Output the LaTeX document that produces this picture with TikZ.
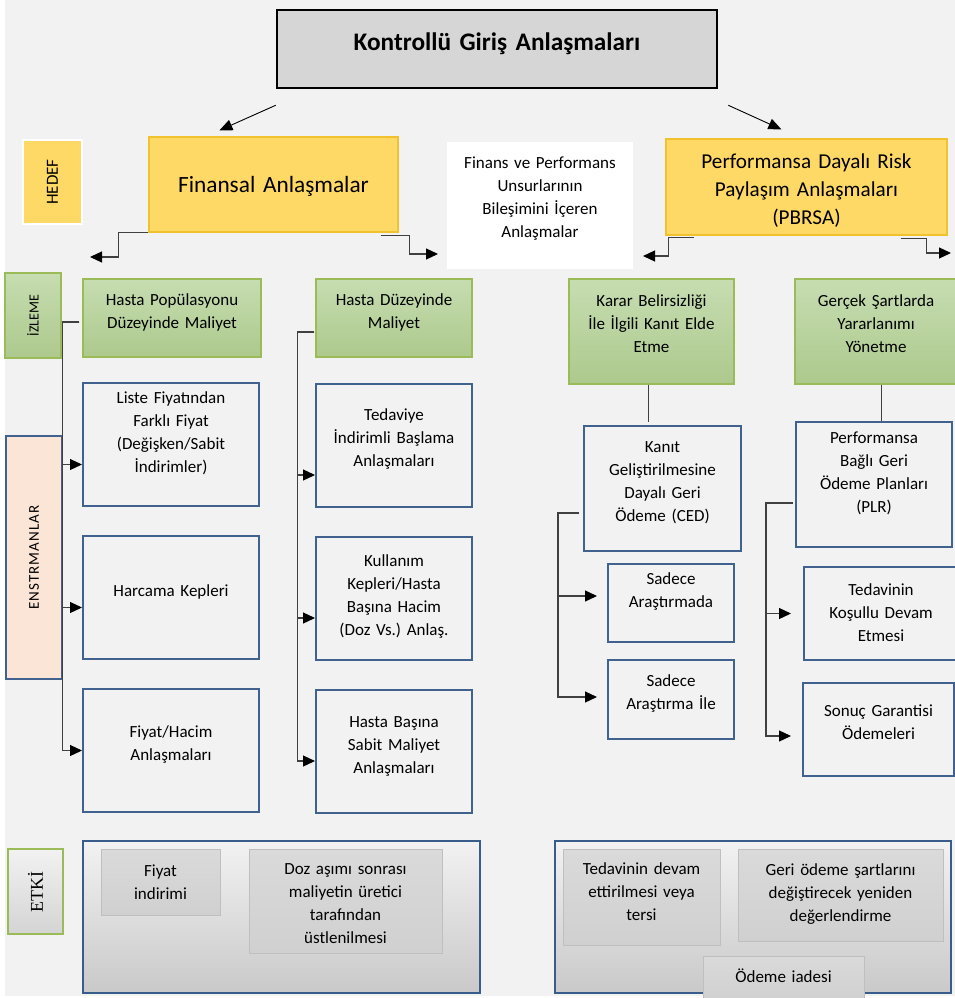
\documentclass[tikz,border=0pt]{standalone}
\usepackage{fontspec}
\setmainfont{Carlito}
\newfontfamily\etkifont{Liberation Serif}
\usepackage{graphicx}
\usetikzlibrary{arrows.meta}
\frenchspacing

\definecolor{bg}{HTML}{F2F2F2}
\definecolor{titlegray}{HTML}{D6D6D6}
\definecolor{yellowfill}{HTML}{FFD966}
\definecolor{yellowline}{HTML}{F2C12E}
\definecolor{grntop}{HTML}{C6DDB1}
\definecolor{grnbot}{HTML}{ADC98D}
\definecolor{grnline}{HTML}{9BBB59}
\definecolor{blueline}{HTML}{41628F}
\definecolor{effline}{HTML}{385D8A}
\definecolor{peach}{HTML}{FBE5D6}
\definecolor{grayhi}{HTML}{DADADA}
\definecolor{graylo}{HTML}{D0D0D0}
\definecolor{grayline}{HTML}{BFBFBF}
\definecolor{efflo}{HTML}{C9C9C9}

\tikzset{
  lift/.style={execute at end node={\endgraf\vspace*{#1}}}, lift/.default=12pt,
  txt/.style={font=\fontsize{17}{23}\selectfont},
  greenbox/.style={txt, draw=grnline, line width=1.2pt, top color=grntop, bottom color=grnbot, lift},
  bluebox/.style={txt, draw=blueline, line width=2pt, fill=bg, lift},
  yellowbox/.style={draw=yellowline, line width=1.2pt, fill=yellowfill},
  graybox/.style={txt, draw=grayline, line width=0.8pt, top color=grayhi, bottom color=graylo, lift=0pt},
  effbox/.style={draw=effline, line width=2pt, top color=bg, bottom color=efflo},
  conn/.style={draw=black!75, line width=1.2pt},
  arr/.style={conn, -{Triangle[length=12pt,width=11pt,black]}},
  thinarr/.style={draw=black, line width=0.9pt, -{Triangle[length=13pt,width=11pt]}}
}

\begin{document}
\begin{tikzpicture}[x=1pt,y=-1pt, every node/.style={align=center,inner sep=2pt}]
  \useasboundingbox (0,0) rectangle (955,998);
  \fill[bg] (5,0) rectangle (955,996);

  % top row
  \node[draw=black, line width=2.5pt, fill=titlegray, minimum width=440pt, minimum height=78pt,
    text width=430pt, font=\bfseries\fontsize{25.3}{28}\selectfont, lift=10pt] (title) at (497,49)
    {Kontrollü Giriş Anlaşmaları};
  \node[draw=white, line width=2pt, fill=yellowfill, minimum width=59pt, minimum height=84pt,
    font=\fontsize{17}{20}\selectfont] (hedef) at (52.5,182) {\rotatebox{90}{HEDEF}};
  \node[yellowbox, minimum width=249pt, minimum height=95pt, text width=240pt,
    font=\fontsize{23.3}{28}\selectfont, lift=-14pt] (fin) at (273.5,184.5) {Finansal Anlaşmalar};
  \node[txt, fill=white, minimum width=186pt, minimum height=127pt, text width=180pt, lift=14pt] (mix)
    at (540,205.5) {Finans ve Performans\\Unsurlarının\\Bileşimini İçeren\\Anlaşmalar};
  \node[yellowbox, minimum width=281pt, minimum height=96pt, text width=272pt,
    font=\fontsize{21.2}{28}\selectfont, lift=-8pt] (pbrsa) at (806.5,187)
    {Performansa Dayalı Risk\\Paylaşım Anlaşmaları\\(PBRSA)};

  % izleme row
  \node[draw=grnline, line width=1.2pt, top color=grntop, bottom color=grnbot, minimum width=56pt,
    minimum height=85pt, font=\fontsize{14}{17}\selectfont] (izleme) at (33,315.5) {\rotatebox{90}{İZLEME}};
  \node[greenbox, minimum width=178pt, minimum height=78pt, text width=172pt] (hpop) at (172,318)
    {Hasta Popülasyonu\\Düzeyinde Maliyet};
  \node[greenbox, minimum width=156pt, minimum height=78pt, text width=150pt] (hdz) at (394,318)
    {Hasta Düzeyinde\\Maliyet};
  \node[greenbox, minimum width=165pt, minimum height=105pt, text width=159pt, lift=4pt] (karar)
    at (651.5,331.5) {Karar Belirsizliği\\İle İlgili Kanıt Elde\\Etme};
  \node[greenbox, minimum width=162pt, minimum height=105pt, text width=156pt, lift=4pt] (gercek)
    at (876,331.5) {Gerçek Şartlarda\\Yararlanımı\\Yönetme};

  % enstrumanlar
  \node[draw=blueline, line width=1.5pt, fill=peach, minimum width=56pt, minimum height=243pt,
    font=\fontsize{15}{17}\selectfont\addfontfeatures{LetterSpace=7}] (enst) at (34,557.5)
    {\rotatebox{90}{ENSTRMANLAR}};
  \node[bluebox, minimum width=176pt, minimum height=123pt, text width=170pt, lift=11pt] (liste)
    at (171,444.5) {Liste Fiyatından\\Farklı Fiyat\\(Değişken/Sabit\\İndirimler)};
  \node[bluebox, minimum width=176pt, minimum height=123pt, text width=170pt, lift=0pt] (harc)
    at (171,597.5) {Harcama Kepleri};
  \node[bluebox, minimum width=176pt, minimum height=123pt, text width=170pt, lift=0pt] (fh)
    at (171,750.5) {Fiyat/Hacim\\Anlaşmaları};
  \node[bluebox, minimum width=156pt, minimum height=123pt, text width=150pt, lift=0pt] (ted)
    at (394,445.5) {Tedaviye\\İndirimli Başlama\\Anlaşmaları};
  \node[bluebox, minimum width=156pt, minimum height=123pt, text width=150pt, lift=-8pt] (kul)
    at (394,598.5) {Kullanım\\Kepleri/Hasta\\Başına Hacim\\(Doz Vs.) Anlaş.};
  \node[bluebox, minimum width=156pt, minimum height=123pt, text width=150pt, lift=-2pt] (hb)
    at (394,751.5) {Hasta Başına\\Sabit Maliyet\\Anlaşmaları};
  \node[bluebox, minimum width=157pt, minimum height=125pt, text width=151pt] (kanit) at (662.5,488.5)
    {Kanıt\\Geliştirilmesine\\Dayalı Geri\\Ödeme (CED)};
  \node[bluebox, minimum width=126pt, minimum height=78pt, text width=120pt, lift=11pt] (sadA)
    at (671,603) {Sadece\\Araştırmada};
  \node[bluebox, minimum width=126pt, minimum height=79pt, text width=120pt] (sadB) at (671,699.5)
    {Sadece\\Araştırma İle};
  \node[bluebox, minimum width=156pt, minimum height=125pt, text width=150pt, lift=11pt] (perf)
    at (874,484.5) {Performansa\\Bağlı Geri\\Ödeme Planları\\(PLR)};
  \node[bluebox, minimum width=154pt, minimum height=93pt, text width=148pt, lift=-10pt] (tkd)
    at (881,613.5) {Tedavinin\\Koşullu Devam\\Etmesi};
  \node[bluebox, minimum width=151pt, minimum height=93pt, text width=145pt, lift=2pt] (sonuc)
    at (878.5,729.5) {Sonuç Garantisi\\Ödemeleri};

  % etki
  \node[draw=grnline, line width=1.2pt, top color=bg, bottom color=efflo!80, minimum width=55pt,
    minimum height=85pt, font=\etkifont\fontsize{18}{20}\selectfont] (etki) at (35.5,891.5)
    {\rotatebox{90}{ETKİ}};
  \node[effbox, minimum width=397pt, minimum height=152pt] (effL) at (281.5,917) {};
  \node[graybox, minimum width=119pt, minimum height=66pt, text width=113pt] (fiyi) at (160.5,882)
    {Fiyat\\indirimi};
  \node[graybox, minimum width=193pt, minimum height=104pt, text width=187pt, lift=-6pt] (doz)
    at (345.5,901) {Doz aşımı sonrası\\maliyetin üretici\\tarafından\\üstlenilmesi};
  \node[effbox, minimum width=396pt, minimum height=152pt] (effR) at (753,917) {};
  \node[graybox, minimum width=157pt, minimum height=96pt, text width=151pt, lift=10pt] (tdv)
    at (641.5,897) {Tedavinin devam\\ettirilmesi veya\\tersi};
  \node[graybox, minimum width=205pt, minimum height=92pt, text width=199pt, lift=2pt] (geri)
    at (840.5,895) {Geri ödeme şartlarını\\değiştirecek yeniden\\değerlendirme};
  \node[graybox, minimum width=161pt, minimum height=44pt, text width=155pt, lift=4pt] (iade)
    at (783.5,978) {Ödeme iadesi};

  % arrows from the title
  \draw[thinarr] ([yshift=-16pt]title.south west) -- ([xshift=71pt,yshift=6pt]fin.north west);
  \draw[thinarr] ([xshift=10pt,yshift=-16pt]title.south east) -- ([xshift=116pt,yshift=9pt]pbrsa.north west);

  % elbows under the agreements
  \coordinate (finL) at (90,257);
  \coordinate (finR) at (438,254);
  \coordinate (pbL) at (643,256);
  \coordinate (pbR) at (951,253);
  \draw[arr] (fin.south west) -- ++(-30,0) |- (finL);
  \draw[arr] ([xshift=-18pt,yshift=-3pt]fin.south east) -- ++(29,0) |- (finR);
  \draw[arr] ([xshift=29pt,yshift=-2pt]pbrsa.south west) -- ++(-26,0) |- (pbL);
  \draw[arr] ([xshift=-47pt,yshift=-3pt]pbrsa.south east) -- ++(26,0) |- (pbR);

  % population level
  \draw[arr] ([xshift=-3pt,yshift=-4pt]hpop.west) -- ++(-17,0) |- ([yshift=-20pt]liste.west);
  \draw[arr] ([xshift=-3pt,yshift=-4pt]hpop.west) -- ++(-17,0) |- ([yshift=-10pt]harc.west);
  \draw[arr] ([xshift=-3pt,yshift=-4pt]hpop.west) -- ++(-17,0) |- (fh.west);

  % patient level
  \draw[arr] ([xshift=-1pt,yshift=-14pt]hdz.west) -- ++(-17,0) |- ([yshift=-29.5pt]ted.west);
  \draw[arr] ([xshift=-1pt,yshift=-14pt]hdz.west) -- ++(-17,0) |- ([yshift=-19.5pt]kul.west);
  \draw[arr] ([xshift=-1pt,yshift=-14pt]hdz.west) -- ++(-17,0) |- ([yshift=-9.5pt]hb.west);

  % evidence
  \draw[conn, line width=1pt] ([xshift=-3pt]karar.south) -- ([xshift=-3pt,yshift=3pt]karar.south |- kanit.north);
  \draw[arr] ([xshift=-4pt,yshift=-24.5pt]kanit.west) -- ++(-21,0) |- ([xshift=-10pt,yshift=7pt]sadA.west);
  \draw[arr] ([xshift=-4pt,yshift=-24.5pt]kanit.west) -- ++(-21,0) |- ([xshift=-10pt,yshift=2.5pt]sadB.west);

  % real world use
  \draw[conn, line width=1pt] ([xshift=7pt]perf.north |- gercek.south) -- ([xshift=7pt]perf.north);
  \draw[arr] ([xshift=-2pt,yshift=-18.5pt]perf.west) -- ++(-27,0) |- ([xshift=-12pt]tkd.west);
  \draw[arr] ([xshift=-2pt,yshift=-18.5pt]perf.west) -- ++(-27,0) |- ([xshift=-11pt,yshift=-6.5pt]sonuc.west);
\end{tikzpicture}
\end{document}
